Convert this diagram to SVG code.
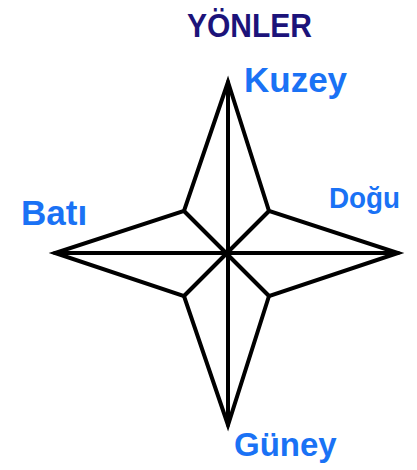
<svg xmlns="http://www.w3.org/2000/svg" width="417" height="470" viewBox="0 0 417 470">
<style>
.star{fill:none;stroke:#000;stroke-width:4;stroke-linejoin:miter;stroke-linecap:round}
.lbl{font-family:"Liberation Sans","DejaVu Sans",sans-serif;font-weight:bold;fill:#1a72f5}
.title{font-family:"Liberation Sans","DejaVu Sans",sans-serif;font-weight:bold;fill:#1c137a}
</style>
<rect width="417" height="470" fill="#fff"/>
<g id="star">
<polygon class="star" points="228,82 269,211 398,253 269,296 228,425 184,296 55,253 184,211"/>
<line class="star" x1="228" y1="82" x2="228" y2="425"/>
<line class="star" x1="55" y1="253" x2="398" y2="253"/>
<line class="star" x1="184" y1="211" x2="269" y2="296"/>
<line class="star" x1="269" y1="211" x2="184" y2="296"/>
</g>
<g id="title"><text class="title" x="187" y="37" font-size="33" textLength="125" lengthAdjust="spacingAndGlyphs">YÖNLER</text></g>
<g id="kuzey"><text class="lbl" x="244" y="92" font-size="35">Kuzey</text></g>
<g id="bati"><text class="lbl" x="21" y="225" font-size="35">Batı</text></g>
<g id="dogu"><text class="lbl" x="329" y="208" font-size="30" textLength="71" lengthAdjust="spacingAndGlyphs">Doğu</text></g>
<g id="guney"><text class="lbl" x="234" y="456" font-size="33">Güney</text></g>
</svg>
